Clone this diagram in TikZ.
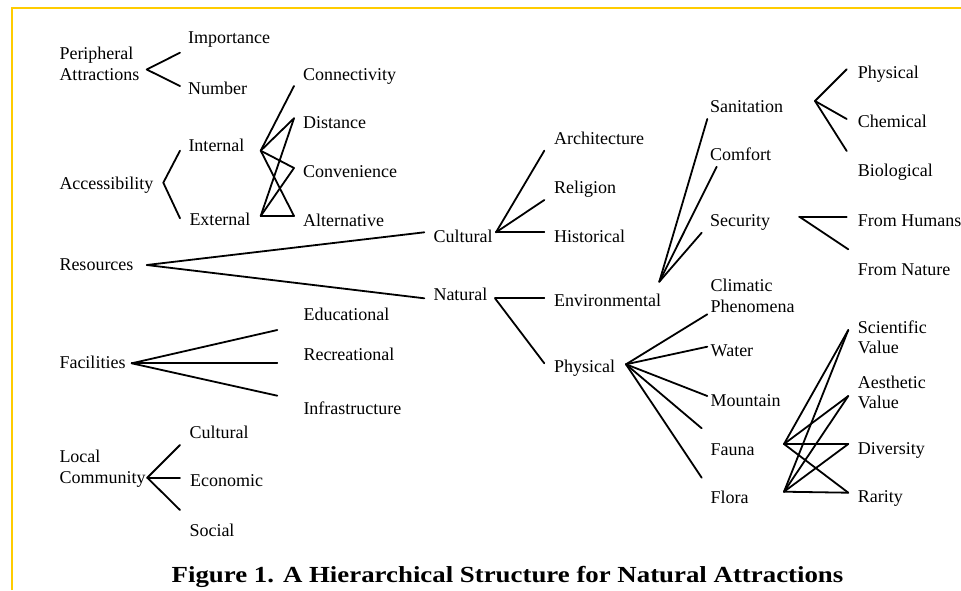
\documentclass[tikz,border=0pt]{standalone}
\usepackage{fontspec}
\setmainfont{Liberation Serif}
\definecolor{framegold}{RGB}{255,204,0}
\begin{document}
\begin{tikzpicture}[x=1pt,y=-1pt,
  lbl/.style={anchor=base west,inner sep=0pt,font=\fontsize{18}{20}\selectfont},
  link/.style={line width=1.8pt,line cap=round,line join=round}]
\useasboundingbox (0,0) rectangle (961,590);
\fill[white] (0,0) rectangle (961,590);
\draw[framegold,line width=2.6pt] (12,590) -- (12,8) -- (961,8);

% ---- labels ----
\node[lbl] (peri1) at (59.3,59) {Peripheral};
\node[lbl] (peri2) at (59.3,80) {Attractions};
\node[lbl] (imp) at (188,43) {Importance};
\node[lbl] (num) at (188,94) {Number};
\node[lbl] (acc) at (59.3,189) {Accessibility};
\node[lbl] (int) at (188.3,151) {Internal};
\node[lbl] (ext) at (189.3,225.3) {External};
\node[lbl] (conn) at (303,80) {Connectivity};
\node[lbl] (dist) at (303,128.3) {Distance};
\node[lbl] (conv) at (303,177) {Convenience};
\node[lbl] (alt) at (303,226.3) {Alternative};
\node[lbl] (res) at (59.3,270) {Resources};
\node[lbl] (cult) at (433.3,242.3) {Cultural};
\node[lbl] (nat) at (433.3,300) {Natural};
\node[lbl] (arch) at (554,144.3) {Architecture};
\node[lbl] (rel) at (554,193.3) {Religion};
\node[lbl] (hist) at (554,242.3) {Historical};
\node[lbl] (env) at (554,306.7) {Environmental};
\node[lbl] (phys) at (554,372.3) {Physical};
\node[lbl] (san) at (710,112.3) {Sanitation};
\node[lbl] (com) at (710,160.7) {Comfort};
\node[lbl] (sec) at (710,226.7) {Security};
\node[lbl] (cli1) at (710.5,291.5) {Climatic};
\node[lbl] (cli2) at (710.5,312.5) {Phenomena};
\node[lbl] (wat) at (710.5,356.7) {Water};
\node[lbl] (mou) at (710.5,406) {Mountain};
\node[lbl] (fau) at (710.5,455) {Fauna};
\node[lbl] (flo) at (710.5,503.3) {Flora};
\node[lbl] (sphy) at (857.7,78.3) {Physical};
\node[lbl] (sche) at (857.7,127.3) {Chemical};
\node[lbl] (sbio) at (857.7,176.7) {Biological};
\node[lbl] (fhum) at (857.7,226) {From Humans};
\node[lbl] (fnat) at (857.7,275) {From Nature};
\node[lbl] (sci1) at (857.7,333.3) {Scientific};
\node[lbl] (sci2) at (857.7,353.3) {Value};
\node[lbl] (aes1) at (857.7,388.3) {Aesthetic};
\node[lbl] (aes2) at (857.7,408.3) {Value};
\node[lbl] (div) at (857.7,454) {Diversity};
\node[lbl] (rar) at (857.7,502.7) {Rarity};
\node[lbl] (fac) at (59.3,368.3) {Facilities};
\node[lbl] (edu) at (303.3,320) {Educational};
\node[lbl] (rec) at (303.3,360) {Recreational};
\node[lbl] (inf) at (303.3,414) {Infrastructure};
\node[lbl] (loc1) at (59.3,462.7) {Local};
\node[lbl] (loc2) at (59.3,483.3) {Community};
\node[lbl] (lcul) at (189.3,438.3) {Cultural};
\node[lbl] (leco) at (190,486.7) {Economic};
\node[lbl] (lsoc) at (189.3,536) {Social};

\node[anchor=base,inner sep=0pt] (cap) at (507.5,582)
  {\scalebox{1.167}[1]{\fontsize{23}{26}\selectfont\bfseries Figure 1. A Hierarchical Structure for Natural Attractions}};

% ---- connector end points ----
\coordinate (paV) at (146.7,69.5);
\coordinate (paI) at (180,52.7);
\coordinate (paN) at (180,86);
\coordinate (acV) at (163.3,182.7);
\coordinate (acI) at (180,150.7);
\coordinate (acE) at (180,218.3);
\coordinate (inV) at (260.7,150.7);
\coordinate (exV) at (260.7,216);
\coordinate (conE) at (294,86);
\coordinate (disE) at (294,118.3);
\coordinate (cnvE) at (294,168);
\coordinate (altE) at (294,216);
\coordinate (resV) at (146.7,265);
\coordinate (culE) at (424.3,232.3);
\coordinate (natE) at (424.3,298.3);
\coordinate (culV) at (496,232.3);
\coordinate (arcE) at (544.3,150.7);
\coordinate (relE) at (544.3,200);
\coordinate (hisE) at (544.3,232.3);
\coordinate (natV) at (495,298.3);
\coordinate (envE) at (544.3,298.3);
\coordinate (phyE) at (544.3,363.3);
\coordinate (envV) at (659.3,281.7);
\coordinate (sanE) at (707.3,119);
\coordinate (comE) at (716.7,166.7);
\coordinate (secE) at (701.7,232.7);
\coordinate (sanV) at (815,101);
\coordinate (spE) at (846.7,69.3);
\coordinate (scE) at (846.7,119);
\coordinate (sbE) at (846.7,151);
\coordinate (secV) at (799.3,216.7);
\coordinate (fhE) at (846.7,216.7);
\coordinate (fnE) at (848.3,249.3);
\coordinate (phyV) at (626,364.3);
\coordinate (cliE) at (707.3,314.3);
\coordinate (watE) at (707.3,346.7);
\coordinate (mouE) at (707.3,396);
\coordinate (fauE) at (701.7,428.3);
\coordinate (floE) at (701.7,477.7);
\coordinate (fauV) at (784,444);
\coordinate (floV) at (784,491.7);
\coordinate (sciE) at (848.3,330);
\coordinate (aesE) at (848.3,396);
\coordinate (divE) at (848.3,444);
\coordinate (rarE) at (848.3,492.7);
\coordinate (facV) at (131.7,363.3);
\coordinate (eduE) at (277.3,330);
\coordinate (recE) at (277.3,363.3);
\coordinate (infE) at (277.3,395.7);
\coordinate (lcV) at (147.3,477.7);
\coordinate (lcuE) at (180,445);
\coordinate (lecE) at (180,477.7);
\coordinate (lsoE) at (180,510);

% ---- connectors ----
\draw[link] (paI) -- (paV) -- (paN);
\draw[link] (acI) -- (acV) -- (acE);
\draw[link] (inV) -- (conE);
\draw[link] (inV) -- (disE);
\draw[link] (inV) -- (cnvE);
\draw[link] (inV) -- (altE);
\draw[link] (exV) -- (disE);
\draw[link] (exV) -- (cnvE);
\draw[link] (exV) -- (altE);
\draw[link] (culE) -- (resV) -- (natE);
\draw[link] (culV) -- (arcE);
\draw[link] (culV) -- (relE);
\draw[link] (culV) -- (hisE);
\draw[link] (natV) -- (envE);
\draw[link] (natV) -- (phyE);
\draw[link] (envV) -- (sanE);
\draw[link] (envV) -- (comE);
\draw[link] (envV) -- (secE);
\draw[link] (sanV) -- (spE);
\draw[link] (sanV) -- (scE);
\draw[link] (sanV) -- (sbE);
\draw[link] (secV) -- (fhE);
\draw[link] (secV) -- (fnE);
\draw[link] (phyV) -- (cliE);
\draw[link] (phyV) -- (watE);
\draw[link] (phyV) -- (mouE);
\draw[link] (phyV) -- (fauE);
\draw[link] (phyV) -- (floE);
\draw[link] (fauV) -- (sciE);
\draw[link] (fauV) -- (aesE);
\draw[link] (fauV) -- (divE);
\draw[link] (fauV) -- (rarE);
\draw[link] (floV) -- (sciE);
\draw[link] (floV) -- (aesE);
\draw[link] (floV) -- (divE);
\draw[link] (floV) -- (rarE);
\draw[link] (facV) -- (eduE);
\draw[link] (facV) -- (recE);
\draw[link] (facV) -- (infE);
\draw[link] (lcV) -- (lcuE);
\draw[link] (lcV) -- (lecE);
\draw[link] (lcV) -- (lsoE);
\end{tikzpicture}
\end{document}
